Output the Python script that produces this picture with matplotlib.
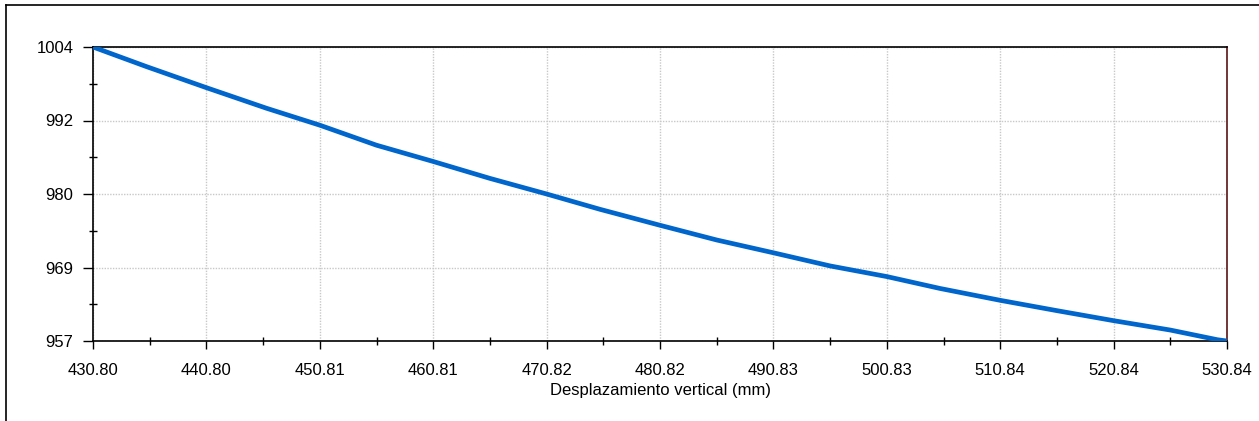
import numpy as np
import matplotlib

matplotlib.use("Agg")
import matplotlib.pyplot as plt
from matplotlib.lines import Line2D
from matplotlib.ticker import FixedLocator

plt.rcParams["font.family"] = ["Liberation Sans", "DejaVu Sans"]

# values
desplazamiento = [430.80, 435.54, 440.80, 446.12, 450.81, 455.81, 460.81,
                  465.81, 470.82, 475.53, 480.82, 485.82, 490.83, 495.83,
                  500.83, 505.52, 510.84, 515.84, 520.84, 525.84, 530.00,
                  530.84]
carga = [1004.0, 1000.85, 997.5, 994.2, 991.5, 988.3, 985.7,
         983.0, 980.5, 978.05, 975.5, 973.15, 971.1, 969.0,
         967.3, 965.4, 963.5, 961.85, 960.25, 958.75, 957.2,
         957.0]

x_tick_labels = ["430.80", "440.80", "450.81", "460.81", "470.82", "480.82",
                 "490.83", "500.83", "510.84", "520.84", "530.84"]
y_tick_labels = ["957", "969", "980", "992", "1004"]

X_MIN, X_MAX = 430.80, 530.84
Y_MIN, Y_MAX = 957.0, 1004.0

W, H = 1259, 421
fig = plt.figure(figsize=(W / 100, H / 100), dpi=100)
ax = fig.add_axes([93 / W, 1 - 341 / H, 1134 / W, 294 / H])

ax.plot(desplazamiento, carga, color="#0066CC", linewidth=3.4,
        solid_capstyle="butt", zorder=3)

ax.set_xlim(X_MIN, X_MAX)
ax.set_ylim(Y_MIN, Y_MAX)

x_ticks = np.linspace(X_MIN, X_MAX, len(x_tick_labels))
y_ticks = np.linspace(Y_MIN, Y_MAX, len(y_tick_labels))
ax.set_xticks(x_ticks)
ax.set_xticklabels(x_tick_labels)
ax.set_yticks(y_ticks)
ax.set_yticklabels(y_tick_labels)
ax.xaxis.set_minor_locator(FixedLocator((x_ticks[:-1] + x_ticks[1:]) / 2))
ax.yaxis.set_minor_locator(FixedLocator((y_ticks[:-1] + y_ticks[1:]) / 2))

ax.tick_params(axis="x", which="major", direction="out", length=6,
               width=1, pad=10, labelsize=12, color="black")
ax.tick_params(axis="y", which="major", direction="out", length=7,
               width=1, pad=7, labelsize=12, color="black")
ax.tick_params(which="minor", direction="inout", length=6, width=1,
               color="black")

ax.grid(which="major", color="#c8c8c8", linestyle=(0, (1, 1)), linewidth=1,
        zorder=0)
ax.set_axisbelow(True)

for side in ("left", "bottom", "top"):
    ax.spines[side].set_color("black")
    ax.spines[side].set_linewidth(1.2)
ax.spines["right"].set_color("#5a1414")
ax.spines["right"].set_linewidth(1.2)

ax.set_xlabel("Desplazamiento vertical (mm)", fontsize=12, labelpad=3.5)

# outer frame of the exported chart
fig.add_artist(Line2D([6 / W, 1], [1 - 5 / H, 1 - 5 / H], color="black",
                      linewidth=1.2))
fig.add_artist(Line2D([6 / W, 6 / W], [0, 1 - 5 / H], color="black",
                      linewidth=1.2))

fig.savefig("out.png", dpi=100)
